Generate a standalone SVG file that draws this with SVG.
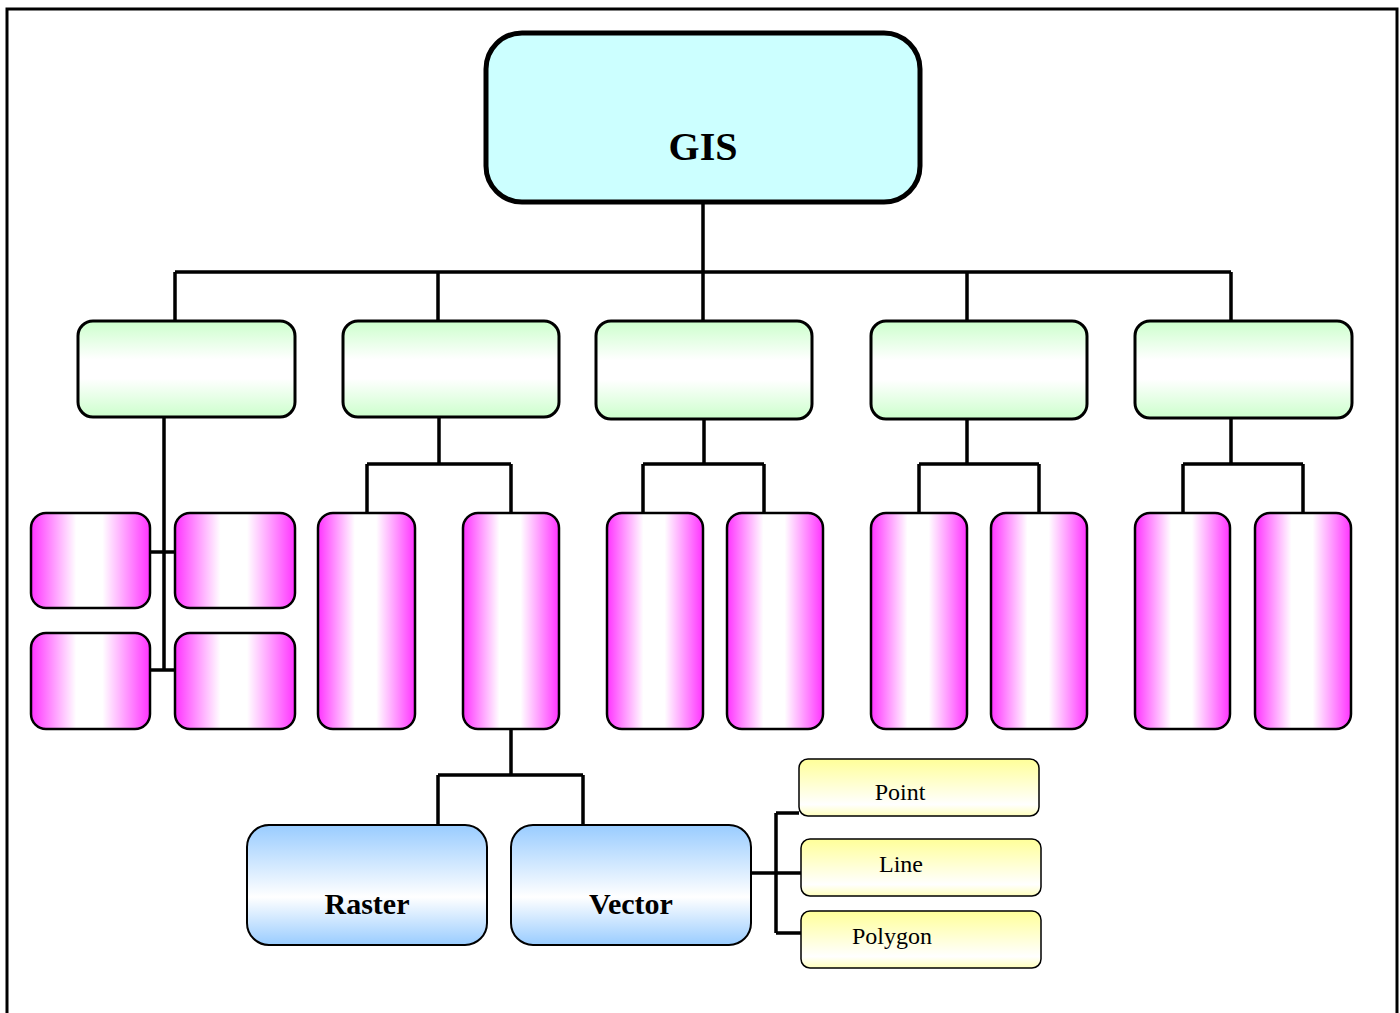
<svg xmlns="http://www.w3.org/2000/svg" width="1400" height="1013" viewBox="0 0 1400 1013">
<defs>
<linearGradient id="gGreen" x1="0" y1="0" x2="0" y2="1">
<stop offset="0" stop-color="#ccffcc"/><stop offset="0.4" stop-color="#ffffff"/><stop offset="0.6" stop-color="#ffffff"/><stop offset="1" stop-color="#ccffcc"/>
</linearGradient>
<linearGradient id="gPink" x1="0" y1="0" x2="1" y2="0">
<stop offset="0" stop-color="#ff33ff"/><stop offset="0.38" stop-color="#ffffff"/><stop offset="0.6" stop-color="#ffffff"/><stop offset="1" stop-color="#ff33ff"/>
</linearGradient>
<linearGradient id="gBlue" x1="0" y1="0" x2="0" y2="1">
<stop offset="0" stop-color="#99ccff"/><stop offset="0.6" stop-color="#ffffff"/><stop offset="1" stop-color="#99ccff"/>
</linearGradient>
<linearGradient id="gYellow" x1="0" y1="0" x2="0" y2="1">
<stop offset="0" stop-color="#ffff99"/><stop offset="0.8" stop-color="#ffffff"/><stop offset="1" stop-color="#ffffbb"/>
</linearGradient>
</defs>
<style>
.frame{fill:#ffffff;stroke:#000;stroke-width:3}
.root{fill:#ccffff;stroke:#000;stroke-width:5}
.green{fill:url(#gGreen);stroke:#000;stroke-width:3}
.pink{fill:url(#gPink);stroke:#000;stroke-width:2.5}
.blue{fill:url(#gBlue);stroke:#000;stroke-width:2}
.yellow{fill:url(#gYellow);stroke:#000;stroke-width:1.5}
.conn{fill:none;stroke:#000;stroke-width:3.5}
text{fill:#000;text-anchor:middle}
</style>
<rect class="frame" x="7" y="9" width="1390" height="1020"/>
<g id="connectors">
<path class="conn" d="M703 203 V272 M175 272 H1231 M175 272 V321 M438 272 V321 M703 272 V321 M967 272 V321 M1231 272 V321"/>
<path class="conn" d="M164 417 V671 M151 552 H175 M151 670 H175"/>
<path class="conn" d="M439 417 V464 M367 464 H511 M367 464 V513 M511 464 V513"/>
<path class="conn" d="M704 419 V464 M643 464 H764 M643 464 V513 M764 464 V513"/>
<path class="conn" d="M967 419 V464 M919 464 H1039 M919 464 V513 M1039 464 V513"/>
<path class="conn" d="M1231 418 V464 M1183 464 H1303 M1183 464 V513 M1303 464 V513"/>
<path class="conn" d="M511 729 V775 M438 775 H583 M438 775 V825 M583 775 V825"/>
<path class="conn" d="M751 873 H801 M776 813 V933 M776 813 H799 M776 933 H801"/>
</g>
<g id="gis"><rect class="root" x="486" y="33" width="434" height="169" rx="36"/><text x="703" y="160" font-family="Liberation Serif, Tinos, Times New Roman, serif" font-weight="bold" font-size="40">GIS</text></g>
<g id="g1"><rect class="green" x="78" y="321" width="217" height="96" rx="15"/></g>
<g id="g2"><rect class="green" x="343" y="321" width="216" height="96" rx="15"/></g>
<g id="g3"><rect class="green" x="596" y="321" width="216" height="98" rx="15"/></g>
<g id="g4"><rect class="green" x="871" y="321" width="216" height="98" rx="15"/></g>
<g id="g5"><rect class="green" x="1135" y="321" width="217" height="97" rx="15"/></g>
<g id="p1a"><rect class="pink" x="31" y="513" width="119" height="95" rx="15"/></g>
<g id="p1b"><rect class="pink" x="175" y="513" width="120" height="95" rx="15"/></g>
<g id="p1c"><rect class="pink" x="31" y="633" width="119" height="96" rx="15"/></g>
<g id="p1d"><rect class="pink" x="175" y="633" width="120" height="96" rx="15"/></g>
<g id="p2a"><rect class="pink" x="318" y="513" width="97" height="216" rx="15"/></g>
<g id="p2b"><rect class="pink" x="463" y="513" width="96" height="216" rx="15"/></g>
<g id="p3a"><rect class="pink" x="607" y="513" width="96" height="216" rx="15"/></g>
<g id="p3b"><rect class="pink" x="727" y="513" width="96" height="216" rx="15"/></g>
<g id="p4a"><rect class="pink" x="871" y="513" width="96" height="216" rx="15"/></g>
<g id="p4b"><rect class="pink" x="991" y="513" width="96" height="216" rx="15"/></g>
<g id="p5a"><rect class="pink" x="1135" y="513" width="95" height="216" rx="15"/></g>
<g id="p5b"><rect class="pink" x="1255" y="513" width="96" height="216" rx="15"/></g>
<g id="raster"><rect class="blue" x="247" y="825" width="240" height="120" rx="22"/><text x="367" y="914" font-family="Liberation Serif, Tinos, Times New Roman, serif" font-weight="bold" font-size="30">Raster</text></g>
<g id="vector"><rect class="blue" x="511" y="825" width="240" height="120" rx="22"/><text x="631" y="914" font-family="Liberation Serif, Tinos, Times New Roman, serif" font-weight="bold" font-size="30">Vector</text></g>
<g id="point"><rect class="yellow" x="799" y="759" width="240" height="57" rx="9"/><text x="900" y="800" font-family="Liberation Serif, Tinos, Times New Roman, serif" font-size="24">Point</text></g>
<g id="line"><rect class="yellow" x="801" y="839" width="240" height="57" rx="9"/><text x="901" y="872" font-family="Liberation Serif, Tinos, Times New Roman, serif" font-size="24">Line</text></g>
<g id="polygon"><rect class="yellow" x="801" y="911" width="240" height="57" rx="9"/><text x="892" y="944" font-family="Liberation Serif, Tinos, Times New Roman, serif" font-size="24">Polygon</text></g>
</svg>
